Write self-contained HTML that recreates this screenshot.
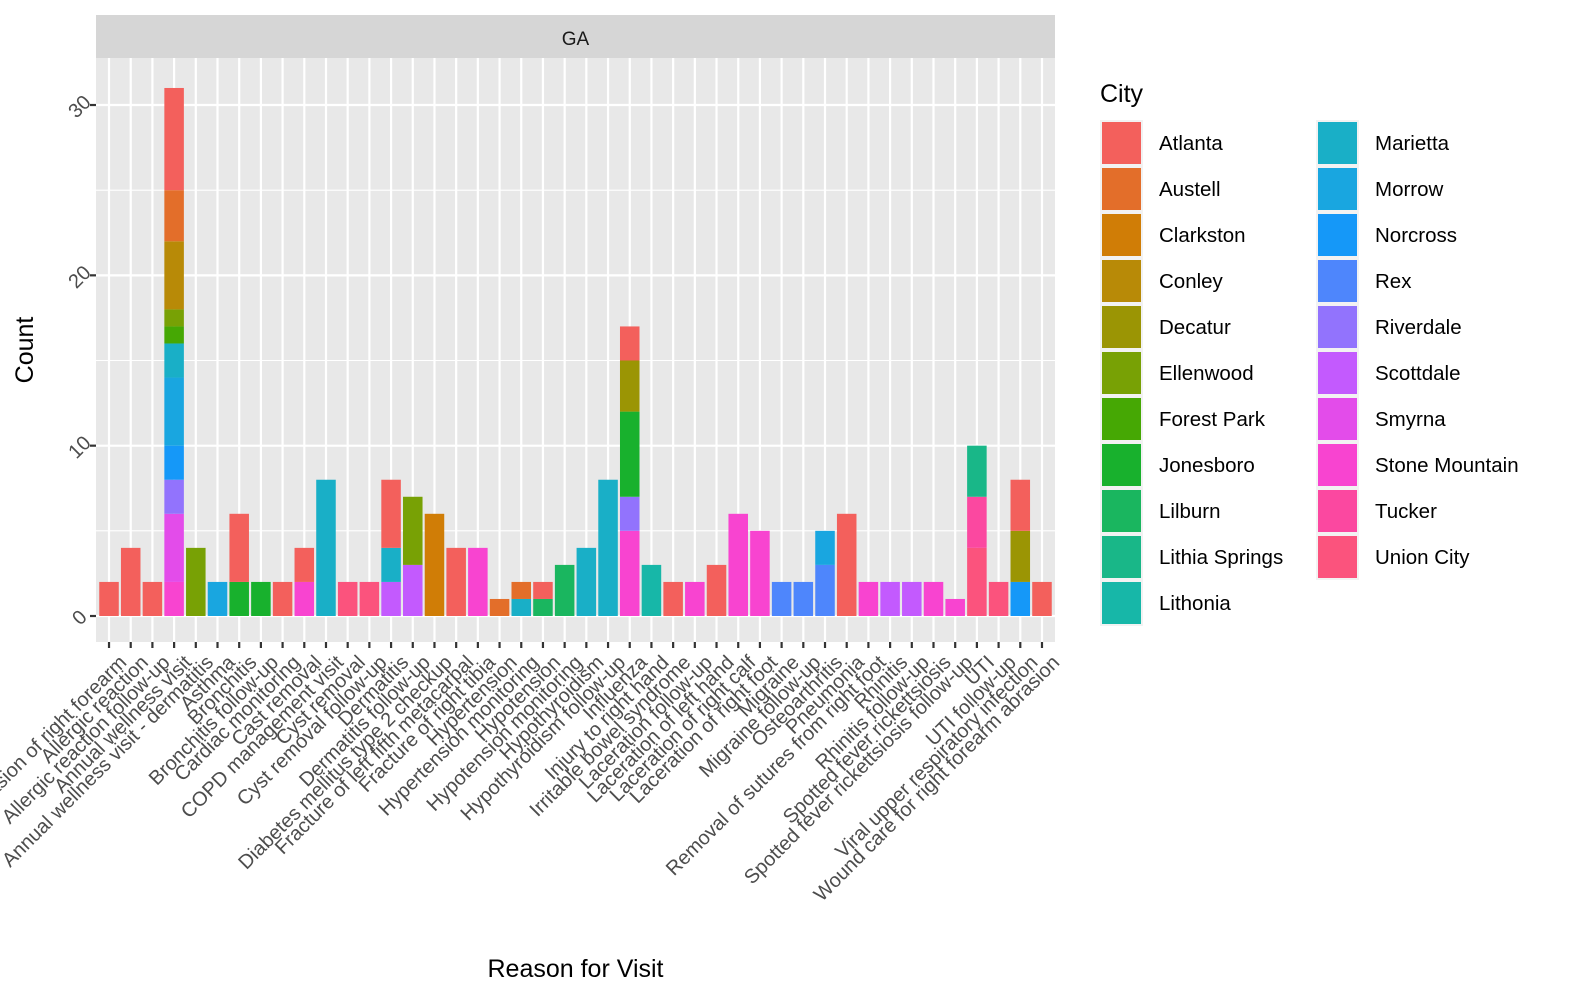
<!DOCTYPE html>
<html><head><meta charset="utf-8"><style>
html,body{margin:0;padding:0;background:#fff;overflow:hidden;width:100%;height:100%;}
svg{display:block;position:fixed;left:0;top:0;width:100vw;height:100vh;font-family:"Liberation Sans",Arial,sans-serif;}
</style></head><body>
<svg id="chart" viewBox="0 0 1578 1004" preserveAspectRatio="none">
<rect x="0" y="0" width="1578" height="1004" fill="#fff"/>
<rect x="96" y="15" width="959" height="43" fill="#D6D6D6"/>
<text x="575.5" y="45" font-size="19" fill="#1A1A1A" text-anchor="middle">GA</text>
<rect x="96" y="58" width="959" height="584" fill="#E8E8E8"/>
<g id="grid"></g>
<g id="bars"></g>
<g id="yaxis"></g>
<g id="xaxis"></g>
<text transform="translate(33,350) rotate(-90)" font-size="25" fill="#000" text-anchor="middle">Count</text>
<text x="575.5" y="977" font-size="25" fill="#000" text-anchor="middle">Reason for Visit</text>
<text x="1100" y="102" font-size="25" fill="#000">City</text>
<g id="legend"></g>
</svg>
<script>
const categories = ["Abrasion of right forearm","Allergic reaction","Allergic reaction follow-up","Annual wellness visit","Annual wellness visit - dermatitis","Asthma","Bronchitis","Bronchitis follow-up","Cardiac monitoring","Cast removal","COPD management visit","Cyst removal","Cyst removal follow-up","Dermatitis","Dermatitis follow-up","Diabetes mellitus type 2 checkup","Fracture of left fifth metacarpal","Fracture of right tibia","Hypertension","Hypertension monitoring","Hypotension","Hypotension monitoring","Hypothyroidism","Hypothyroidism follow-up","Influenza","Injury to right hand","Irritable bowel syndrome","Laceration follow-up","Laceration of left hand","Laceration of right calf","Laceration of right foot","Migraine","Migraine follow-up","Osteoarthritis","Pneumonia","Removal of sutures from right foot","Rhinitis","Rhinitis follow-up","Spotted fever rickettsiosis","Spotted fever rickettsiosis follow-up","UTI","UTI follow-up","Viral upper respiratory infection","Wound care for right forearm abrasion"];
// segments per category: [city, count] bottom to top
const segments = [
 [["Atlanta",2]],
 [["Atlanta",4]],
 [["Atlanta",2]],
 [["Stone Mountain",2],["Smyrna",4],["Riverdale",2],["Norcross",2],["Morrow",4],["Marietta",2],["Forest Park",1],["Ellenwood",1],["Conley",4],["Austell",3],["Atlanta",6]],
 [["Ellenwood",4]],
 [["Morrow",2]],
 [["Jonesboro",2],["Atlanta",4]],
 [["Jonesboro",2]],
 [["Atlanta",2]],
 [["Stone Mountain",2],["Atlanta",2]],
 [["Marietta",8]],
 [["Union City",2]],
 [["Union City",2]],
 [["Scottdale",2],["Marietta",2],["Atlanta",4]],
 [["Scottdale",3],["Ellenwood",4]],
 [["Clarkston",6]],
 [["Atlanta",4]],
 [["Stone Mountain",4]],
 [["Austell",1]],
 [["Marietta",1],["Austell",1]],
 [["Lilburn",1],["Atlanta",1]],
 [["Lilburn",3]],
 [["Marietta",4]],
 [["Marietta",8]],
 [["Stone Mountain",5],["Riverdale",2],["Jonesboro",5],["Decatur",3],["Atlanta",2]],
 [["Lithonia",3]],
 [["Atlanta",2]],
 [["Stone Mountain",2]],
 [["Atlanta",3]],
 [["Stone Mountain",6]],
 [["Stone Mountain",5]],
 [["Rex",2]],
 [["Rex",2]],
 [["Rex",3],["Morrow",2]],
 [["Atlanta",6]],
 [["Stone Mountain",2]],
 [["Scottdale",2]],
 [["Scottdale",2]],
 [["Stone Mountain",2]],
 [["Stone Mountain",1]],
 [["Union City",4],["Tucker",3],["Lithia Springs",3]],
 [["Union City",2]],
 [["Norcross",2],["Decatur",3],["Atlanta",3]],
 [["Atlanta",2]]
];
const yTicks = [0,10,20,30];
const yMinor = [5,15,25];
const legendCities = ["Atlanta","Austell","Clarkston","Conley","Decatur","Ellenwood","Forest Park","Jonesboro","Lilburn","Lithia Springs","Lithonia","Marietta","Morrow","Norcross","Rex","Riverdale","Scottdale","Smyrna","Stone Mountain","Tucker","Union City"];
const cityColors = ["#F3605C","#E36E2A","#D07D06","#B88A07","#9B9504","#78A105","#46A804","#18B12D","#1AB65F","#19B788","#17B7A8","#19AFC7","#19A6E0","#1598F8","#4E86FC","#9273FD","#C35AFE","#E34CEA","#F844D0","#FB48A0","#FB537D"];

const NS="http://www.w3.org/2000/svg";
const colorOf={};
legendCities.forEach((c,i)=>{colorOf[c]=cityColors[i];});

const px0=96, px1=1055, py0=58, py1=642;
const nc=categories.length;
const unit=(px1-px0)/(nc-1+1.2);
const xS=i=>px0+(0.6+i)*unit;
const yS=v=>616-v*17.033;
function mk(tag,attrs,parent){const e=document.createElementNS(NS,tag);for(const k in attrs)e.setAttribute(k,attrs[k]);parent.appendChild(e);return e;}
const grid=document.getElementById('grid');
yMinor.forEach(v=>{const l=mk('line',{x1:px0,x2:px1,y1:yS(v),y2:yS(v),stroke:'#fff','stroke-width':1.1},grid);

});
yTicks.forEach(v=>{const l=mk('line',{x1:px0,x2:px1,y1:yS(v),y2:yS(v),stroke:'#fff','stroke-width':2.2},grid);

});
categories.forEach((c,i)=>{const l=mk('line',{x1:xS(i),x2:xS(i),y1:py0,y2:py1,stroke:'#fff','stroke-width':2.2},grid);

});
const bars=document.getElementById('bars');
const bw=unit*0.9;
segments.forEach((segs,i)=>{let acc=0;segs.forEach(s=>{const y0=yS(acc),y1=yS(acc+s[1]);acc+=s[1];
 const r=mk('rect',{x:xS(i)-bw/2,y:y1,width:bw,height:y0-y1,fill:colorOf[s[0]]},bars);
 
 });});
const ya=document.getElementById('yaxis');
yTicks.forEach(v=>{const t=mk('line',{x1:90,x2:96,y1:yS(v),y2:yS(v),stroke:'#333','stroke-width':2.2},ya);


const tx=mk('text',{transform:'translate(80,'+(yS(v)+2)+') rotate(-45)','font-size':20,fill:'#4D4D4D','text-anchor':'middle','dominant-baseline':'central'},ya);
tx.textContent=v;

});
const xa=document.getElementById('xaxis');
categories.forEach((c,i)=>{const x=xS(i);
const t=mk('line',{x1:x,x2:x,y1:642,y2:648,stroke:'#333','stroke-width':2.2},xa);


const tx=mk('text',{transform:'translate('+(x+9)+',654) rotate(-45)','font-size':20,fill:'#4D4D4D','text-anchor':'end','dominant-baseline':'hanging'},xa);
tx.textContent=c;

});
const lg=document.getElementById('legend');
legendCities.forEach((c,i)=>{const col=Math.floor(i/11),row=i%11;
const x=1100+col*216,y=120+row*46;
const bg=mk('rect',{x:x,y:y,width:43,height:46,fill:'#F2F2F2'},lg);


const k=mk('rect',{x:x+2,y:y+2,width:39,height:42,fill:colorOf[c]},lg);


const tx=mk('text',{x:x+59,y:y+30,'font-size':20.5,fill:'#000'},lg);
tx.textContent=c;

});
</script>
</body></html>
